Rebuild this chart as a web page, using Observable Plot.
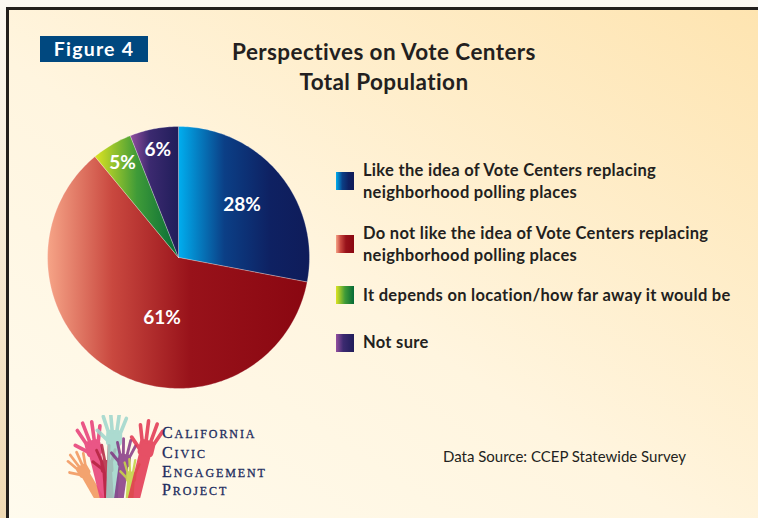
<!DOCTYPE html>
<html><head><meta charset="utf-8">
<script src="https://cdn.jsdelivr.net/npm/d3@7"></script>
<script src="https://cdn.jsdelivr.net/npm/@observablehq/plot@0.6"></script>
<style>
html,body{margin:0;padding:0;width:758px;height:518px;overflow:hidden;background:#fcf8f1;}
#outer{position:absolute;left:0;top:0;width:758px;height:518px;background:linear-gradient(to bottom,#fcf8f1 0%,#f0dab4 100%);}
#frame{position:absolute;left:6px;top:7px;width:760px;height:520px;border-top:3px solid #231f1c;border-left:3px solid #231f1c;
  background:linear-gradient(to top right,#fffbee 0%,#fff5df 45%,#fee4b0 100%);}
#pie{position:absolute;left:38px;top:117px;width:280px;height:280px;}
#overlay{position:absolute;left:0;top:0;}
</style>
</head><body>
<div id="outer"><div id="frame"></div><div id="pie"></div></div>
<script>
// ---- data ----
const categories = [
  "Like the idea of Vote Centers replacing neighborhood polling places",
  "Do not like the idea of Vote Centers replacing neighborhood polling places",
  "It depends on location/how far away it would be",
  "Not sure"
];
const values = [28, 61, 5, 6];
const valueLabels = ["28%", "61%", "5%", "6%"];
const titleLines = ["Perspectives on Vote Centers", "Total Population"];
const figureLabel = "Figure 4";
const sourceText = "Data Source: CCEP Statewide Survey";
const logoLines = ["California", "Civic", "Engagement", "Project"];

// ---- styles ----
const gradStops = [
  [[0,"#00aeef"],[0.35,"#0b3f86"],[0.7,"#0e2162"],[1,"#0f1c5a"]],
  [[0,"#f6a487"],[0.25,"#c9483f"],[0.55,"#98121a"],[1,"#8a0711"]],
  [[0,"#dde322"],[0.5,"#3f9b38"],[1,"#056a37"]],
  [[0,"#934f9f"],[0.4,"#3c2a70"],[1,"#201d5a"]]
];

// ---- pie geometry from values ----
const total = d3.sum(values);
let acc = 0;
const slices = values.map((v, i) => {
  const a0 = acc / total * 2 * Math.PI; acc += v;
  const a1 = acc / total * 2 * Math.PI;
  return {i, v, a0, a1};
});
function arcPts(s) {
  const pts = [{x: 0, y: 0}];
  const n = Math.max(2, Math.ceil((s.a1 - s.a0) / (Math.PI / 180)));
  for (let k = 0; k <= n; k++) {
    const a = s.a0 + (s.a1 - s.a0) * k / n;
    pts.push({x: Math.sin(a), y: Math.cos(a)});
  }
  pts.push({x: 0, y: 0});
  return pts;
}
const labelData = slices.map(s => {
  const share = s.v / total;
  const r = share < 0.1 ? 0.84 : share < 0.5 ? 0.63 : 0.48;
  const a = share < 0.5 ? (s.a0 + s.a1) / 2 : s.a0 + (s.a1 - s.a0) * 0.43;
  return {x: r * Math.sin(a), y: r * Math.cos(a), label: valueLabels[s.i]};
});

const plot = Plot.plot({
  width: 280, height: 280, margin: 0,
  x: {domain: [-1, 1], range: [9, 271], axis: null},
  y: {domain: [-1, 1], range: [271, 9], axis: null},
  style: {background: "transparent", overflow: "visible"},
  marks: [
    ...slices.map(s => Plot.line(arcPts(s), {x: "x", y: "y", fill: `url(#grad${s.i})`, stroke: "#ffffff", strokeOpacity: 0.35, strokeWidth: 0.8, curve: "linear"})),
    Plot.text(labelData, {x: "x", y: "y", text: "label", fill: "white", fontSize: 19, fontWeight: "bold", fontFamily: "Lato"})
  ]
});
const defs = d3.select(plot).insert("defs", ":first-child");
gradStops.forEach((stops, i) => {
  const g = defs.append("linearGradient").attr("id", "grad" + i).attr("x1", 0).attr("x2", 1).attr("y1", 0).attr("y2", 0);
  stops.forEach(([o, c]) => g.append("stop").attr("offset", o).attr("stop-color", c));
});
document.getElementById("pie").appendChild(plot);

// ---- overlay: title, legend, logo, source ----
const ov = d3.select("#outer").append("svg").attr("id", "overlay").attr("width", 758).attr("height", 518);
const odefs = ov.append("defs");
gradStops.forEach((stops, i) => {
  const g = odefs.append("linearGradient").attr("id", "lg" + i).attr("x1", 0).attr("x2", 1).attr("y1", 0).attr("y2", 0);
  stops.forEach(([o, c]) => g.append("stop").attr("offset", o).attr("stop-color", c));
});
ov.append("rect").attr("x", 40).attr("y", 36).attr("width", 108).attr("height", 26).attr("fill", "#00487f");
ov.append("text").attr("x", 94).attr("y", 56).attr("text-anchor", "middle").attr("fill", "#fff")
  .attr("font-family", "Lato").attr("font-weight", "bold").attr("font-size", 19.5).attr("letter-spacing", 1.2).text(figureLabel);
titleLines.forEach((t, k) => ov.append("text").attr("x", 384).attr("y", 60 + 30 * k).attr("text-anchor", "middle")
  .attr("fill", "#231f20").attr("font-family", "Lato").attr("font-weight", "bold").attr("font-size", 22.5).attr("letter-spacing", 0.4).text(t));

const legendY = [172, 235, 286, 334];
const legendBase = [[176, 198], [239, 261], [301], [348]];
function splitLabel(s) {
  const k = s.indexOf(" neighborhood");
  return k > 0 ? [s.slice(0, k), s.slice(k + 1)] : [s];
}
categories.forEach((c, i) => {
  ov.append("rect").attr("x", 336).attr("y", legendY[i]).attr("width", 18).attr("height", 18).attr("fill", `url(#lg${i})`);
  splitLabel(c).forEach((line, k) => ov.append("text").attr("x", 363).attr("y", legendBase[i][k])
    .attr("fill", "#231f20").attr("font-family", "Lato").attr("font-weight", "bold").attr("font-size", 16.5).attr("letter-spacing", 0.3).text(line));
});

ov.append("text").attr("x", 443).attr("y", 462).attr("fill", "#231f20").attr("font-family", "Lato")
  .attr("font-size", 15).text(sourceText);

// logo hands (decorative)
const logo = ov.append("g");
odefs.append("clipPath").attr("id", "logoclip").append("rect").attr("x", 60).attr("y", 415).attr("width", 110).attr("height", 83);
const hands = logo.append("g").attr("clip-path", "url(#logoclip)");
function hand(px, py, rot, s, color, op) {
  const g = hands.append("g").attr("transform", `translate(${px},${py}) rotate(${rot}) scale(${s})`).attr("opacity", op);
  g.append("rect").attr("x", -6).attr("y", 0).attr("width", 12).attr("height", 90).attr("fill", color);
  g.append("rect").attr("x", -8).attr("y", -10).attr("width", 16).attr("height", 16).attr("rx", 4).attr("fill", color);
  const fingers = [[-6, -20, 16], [-2, -7, 21], [2.5, 6, 20], [6.5, 20, 15]];
  fingers.forEach(([fx, ang, len]) => {
    const a = ang * Math.PI / 180;
    g.append("line").attr("x1", fx).attr("y1", -8).attr("x2", fx + len * Math.sin(a)).attr("y2", -8 - len * Math.cos(a))
      .attr("stroke", color).attr("stroke-width", 3.6).attr("stroke-linecap", "round");
  });
  g.append("line").attr("x1", -7).attr("y1", 0).attr("x2", -17).attr("y2", -9)
    .attr("stroke", color).attr("stroke-width", 3.8).attr("stroke-linecap", "round");
}
hand(84, 472, -30, 0.75, "#f29a62", 0.9);
hand(94, 450, -14, 1.0, "#e8457c", 0.9);
hand(107, 468, -4, 0.8, "#b3233f", 0.85);
hand(114, 440, 2, 1.0, "#9ed6cc", 0.85);
hand(124, 462, 8, 0.8, "#7e2b7e", 0.8);
hand(131, 478, 4, 0.65, "#c6d44a", 0.9);
hand(146, 450, 14, 1.0, "#e2334f", 0.85);

const logoBase = [438, 458, 477, 495];
logoLines.forEach((w, k) => {
  const t = ov.append("text").attr("x", 162).attr("y", logoBase[k]).attr("fill", "#1d2c5e")
    .attr("font-family", "Liberation Serif").attr("letter-spacing", 1.9)
    .attr("stroke", "#1d2c5e").attr("stroke-width", 0.3);
  t.append("tspan").attr("font-size", 16).text(w[0].toUpperCase());
  t.append("tspan").attr("font-size", 12).text(w.slice(1).toUpperCase());
});
</script>
</body></html>
